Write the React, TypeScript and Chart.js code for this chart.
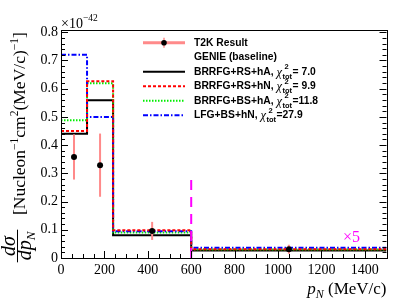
import React, { useEffect, useRef } from "react";
import { Chart, registerables } from "chart.js";
Chart.register(...registerables);

// ---- data ----
const binEdges = [0, 120, 240, 600, 1500];
const rsHa = [0.44, 0.559, 0.081, 0.027];
const rsHn = [0.45, 0.626, 0.098, 0.031];
const bsHa = [0.488, 0.619, 0.09, 0.03];
const lfgHn = [0.72, 0.5, 0.095, 0.036];
const dataX = [60, 180, 420, 1050];
const dataY = [0.358, 0.329, 0.096, 0.031];
const dataErr = [0.08, 0.112, 0.032, 0.016];
const modelLabels = ["BRRFG+RS+hA,", "BRRFG+RS+hN,", "BRRFG+BS+hA,", "LFG+BS+hN,"];
const chi2Labels = ["= 7.0", "= 9.9", "=11.8", "=27.9"];
const dataLabel = "T2K Result";
const baselineLabel = "GENIE (baseline)";
const xRange = [0, 1500];
const yRange = [0, 0.808];
const xMajorStep = 200;
const xMinorStep = 50;
const yMajorStep = 0.1;
const yMinorStep = 0.02;
const scaledFromX = 600;
const scaledMarkerTop = 0.3;
const scaledLabel = "×5";

const SERIF = '"Liberation Serif", "Times New Roman", serif';
const SANS = '"Liberation Sans", Arial, sans-serif';

const modelStyles = [
  { color: "#000000", dash: [] as number[] },
  { color: "#ff0000", dash: [3, 2] },
  { color: "#00ee00", dash: [1.5, 1.5] },
  { color: "#0000ff", dash: [5, 2, 1.5, 2] },
];
const modelValues = [rsHa, rsHn, bsHa, lfgHn];
const errColor = "#ff8a8a";

function histPoints(vals: number[]) {
  return binEdges.map((x, i) => ({ x, y: vals[Math.min(i, vals.length - 1)] }));
}

const rootPlugin = {
  id: "rootStyle",
  beforeDatasetDraw(chart: any, args: any) {
    if (args.index !== 0) return;
    const ctx = chart.ctx;
    const xs = chart.scales.x;
    const ys = chart.scales.y;
    ctx.save();
    ctx.strokeStyle = errColor;
    ctx.lineWidth = 2;
    for (let i = 0; i < dataX.length; i++) {
      const px = xs.getPixelForValue(dataX[i]);
      ctx.beginPath();
      ctx.moveTo(px, ys.getPixelForValue(dataY[i] - dataErr[i]));
      ctx.lineTo(px, ys.getPixelForValue(dataY[i] + dataErr[i]));
      ctx.stroke();
    }
    ctx.restore();
  },
  afterDatasetsDraw(chart: any) {
    const ctx = chart.ctx;
    const xs = chart.scales.x;
    const ys = chart.scales.y;
    ctx.save();
    ctx.strokeStyle = "#ff00ff";
    ctx.lineWidth = 2;
    ctx.setLineDash([10, 7]);
    const px = xs.getPixelForValue(scaledFromX);
    ctx.beginPath();
    ctx.moveTo(px, ys.getPixelForValue(0));
    ctx.lineTo(px, ys.getPixelForValue(scaledMarkerTop));
    ctx.stroke();
    ctx.setLineDash([]);
    ctx.fillStyle = "#ff00ff";
    ctx.font = `16px ${SERIF}`;
    ctx.textBaseline = "alphabetic";
    ctx.fillText(scaledLabel, 343, 242);
    ctx.restore();
  },
  afterDraw(chart: any) {
    const ctx = chart.ctx;
    const a = chart.chartArea;
    const xs = chart.scales.x;
    const ys = chart.scales.y;
    ctx.save();
    // frame
    ctx.strokeStyle = "#000";
    ctx.lineWidth = 1;
    ctx.strokeRect(Math.round(a.left) + 0.5, Math.round(a.top) + 0.5, Math.round(a.right - a.left), Math.round(a.bottom - a.top));
    // ticks
    ctx.beginPath();
    const eps = 1e-6;
    for (let v = xRange[0]; v <= xRange[1] + eps; v += xMinorStep) {
      const major = Math.abs(v / xMajorStep - Math.round(v / xMajorStep)) < eps;
      const px = Math.round(xs.getPixelForValue(v)) + 0.5;
      ctx.moveTo(px, a.bottom);
      ctx.lineTo(px, a.bottom - (major ? 7 : 4));
    }
    for (let v = yRange[0]; v <= yRange[1] + eps; v += yMinorStep) {
      const major = Math.abs(v / yMajorStep - Math.round(v / yMajorStep)) < 1e-4;
      const py = Math.round(ys.getPixelForValue(v)) + 0.5;
      const len = major ? 7 : 4;
      ctx.moveTo(a.left, py);
      ctx.lineTo(a.left + len, py);
      ctx.moveTo(a.right, py);
      ctx.lineTo(a.right - len, py);
    }
    ctx.stroke();

    ctx.fillStyle = "#000";
    ctx.textBaseline = "alphabetic";
    // exponent
    ctx.font = `14px ${SERIF}`;
    ctx.fillText("×10", 61, 28);
    const w10 = ctx.measureText("×10").width;
    ctx.font = `9.5px ${SERIF}`;
    ctx.fillText("−42", 61 + w10, 21);

    // x title
    ctx.font = `italic 17px ${SERIF}`;
    const wp = ctx.measureText("p").width;
    ctx.font = `italic 12px ${SERIF}`;
    const wn = ctx.measureText("N").width;
    ctx.font = `17px ${SERIF}`;
    const wu = ctx.measureText(" (MeV/c)").width;
    let tx = a.right - (wp + wn + wu);
    ctx.font = `italic 17px ${SERIF}`;
    ctx.fillText("p", tx, 294);
    tx += wp;
    ctx.font = `italic 12px ${SERIF}`;
    ctx.fillText("N", tx, 298);
    tx += wn;
    ctx.font = `17px ${SERIF}`;
    ctx.fillText(" (MeV/c)", tx, 294);

    // y title (rotated)
    ctx.save();
    ctx.rotate(-Math.PI / 2);
    let lx = -215;
    const base = 25;
    const seg = (text: string, size: number, dy: number, italic = false) => {
      ctx.font = `${italic ? "italic " : ""}${size}px ${SERIF}`;
      ctx.fillText(text, lx, base + dy);
      lx += ctx.measureText(text).width;
    };
    seg("[Nucleon", 17.5, 0);
    seg("−1", 11.5, -7);
    seg("cm", 17.5, 0);
    seg("2", 11.5, -7);
    seg("(MeV/c)", 17.5, 0);
    seg("−1", 11.5, -7);
    seg("]", 17.5, 0);
    // fraction
    const fc = -246;
    ctx.font = `italic 20px ${SERIF}`;
    const wNum = ctx.measureText("dσ").width;
    ctx.fillText("dσ", fc - wNum / 2, 14.5);
    const wdp = ctx.measureText("dp").width;
    ctx.font = `italic 13px ${SERIF}`;
    const wN2 = ctx.measureText("N").width;
    const wDen = wdp + wN2;
    ctx.font = `italic 20px ${SERIF}`;
    ctx.fillText("dp", fc - wDen / 2, 31);
    ctx.font = `italic 13px ${SERIF}`;
    ctx.fillText("N", fc - wDen / 2 + wdp, 35);
    ctx.lineWidth = 1;
    ctx.beginPath();
    const half = Math.max(wNum, wDen) / 2 + 2;
    ctx.moveTo(fc - half, 17.5);
    ctx.lineTo(fc + half, 17.5);
    ctx.stroke();
    ctx.restore();

    // legend
    const rows = [42.7, 57.2, 71.7, 86.2, 100.7, 115.2];
    const lx0 = 143, lx1 = 185, textX = 194;
    const LFONT = `bold 10.3px ${SANS}`;
    ctx.textBaseline = "middle";
    // data entry
    ctx.strokeStyle = errColor;
    ctx.lineWidth = 3;
    ctx.beginPath();
    ctx.moveTo(lx0, rows[0]);
    ctx.lineTo(lx1, rows[0]);
    ctx.stroke();
    ctx.lineWidth = 1.5;
    ctx.beginPath();
    ctx.moveTo((lx0 + lx1) / 2, rows[0] - 5);
    ctx.lineTo((lx0 + lx1) / 2, rows[0] + 5);
    ctx.stroke();
    ctx.fillStyle = "#000";
    ctx.beginPath();
    ctx.arc((lx0 + lx1) / 2, rows[0], 2.8, 0, Math.PI * 2);
    ctx.fill();
    ctx.font = LFONT;
    ctx.fillText(dataLabel, textX, rows[0]);
    ctx.fillText(baselineLabel, textX, rows[1]);
    for (let i = 0; i < modelLabels.length; i++) {
      const y = rows[i + 2];
      const st = modelStyles[i];
      ctx.strokeStyle = st.color;
      ctx.lineWidth = 2;
      ctx.setLineDash(st.dash);
      ctx.beginPath();
      ctx.moveTo(lx0, y);
      ctx.lineTo(lx1, y);
      ctx.stroke();
      ctx.setLineDash([]);
      ctx.fillStyle = "#000";
      ctx.font = LFONT;
      ctx.fillText(modelLabels[i], textX, y);
      let x = textX + ctx.measureText(modelLabels[i]).width + 3;
      ctx.font = `italic 12.5px ${SERIF}`;
      ctx.fillText("χ", x, y + 1);
      x += ctx.measureText("χ").width + 0.5;
      ctx.font = `bold 7.5px ${SANS}`;
      ctx.fillText("2", x + 2, y - 4.5);
      ctx.fillText("tot", x, y + 5);
      x += ctx.measureText("tot").width + 0.5;
      ctx.font = LFONT;
      ctx.fillText(chi2Labels[i], x, y);
    }
    ctx.restore();
  },
};

export default function App() {
  const ref = useRef<HTMLCanvasElement | null>(null);
  useEffect(() => {
    if (!ref.current) return;
    const datasets: any[] = [
      {
        label: dataLabel,
        data: dataX.map((x, i) => ({ x, y: dataY[i] })),
        showLine: false,
        pointRadius: 3,
        pointBackgroundColor: "#000",
        pointBorderColor: "#000",
        pointBorderWidth: 0,
        order: 0,
      },
    ];
    modelValues.forEach((vals, i) => {
      datasets.push({
        label: modelLabels[i],
        data: histPoints(vals),
        stepped: "before",
        borderColor: modelStyles[i].color,
        borderDash: modelStyles[i].dash,
        borderWidth: 2,
        pointRadius: 0,
        fill: false,
        order: [4, 1, 3, 2][i],
      });
    });
    const chart = new Chart(ref.current, {
      type: "line",
      data: { datasets },
      options: {
        animation: false,
        responsive: false,
        events: [],
        layout: { padding: { left: 0, right: 20.5, top: 30, bottom: 0 } },
        plugins: { legend: { display: false }, tooltip: { enabled: false } },
        scales: {
          x: {
            type: "linear",
            min: xRange[0],
            max: xRange[1],
            grid: { display: false, drawTicks: false },
            border: { display: false },
            ticks: {
              stepSize: xMajorStep,
              includeBounds: false,
              autoSkip: false,
              maxRotation: 0,
              padding: 4,
              color: "#000",
              font: { family: SERIF, size: 14 },
              callback: (v: any) => String(Math.round(Number(v))),
            },
            afterFit: (s: any) => {
              s.height = 47;
            },
          },
          y: {
            type: "linear",
            min: yRange[0],
            max: yRange[1],
            grid: { display: false, drawTicks: false },
            border: { display: false },
            ticks: {
              stepSize: yMajorStep,
              includeBounds: false,
              padding: 3,
              color: "#000",
              font: { family: SERIF, size: 14 },
              callback: (v: any) => (Math.abs(v) < 1e-9 ? "0" : Number(v).toFixed(1)),
            },
            afterFit: (s: any) => {
              s.width = 61;
            },
          },
        },
      },
      plugins: [rootPlugin],
    });
    return () => chart.destroy();
  }, []);
  return (
    <canvas
      ref={ref}
      width={407}
      height={305}
      style={{ position: "absolute", left: 0, top: 0, display: "block", width: 407, height: 305 }}
    />
  );
}
